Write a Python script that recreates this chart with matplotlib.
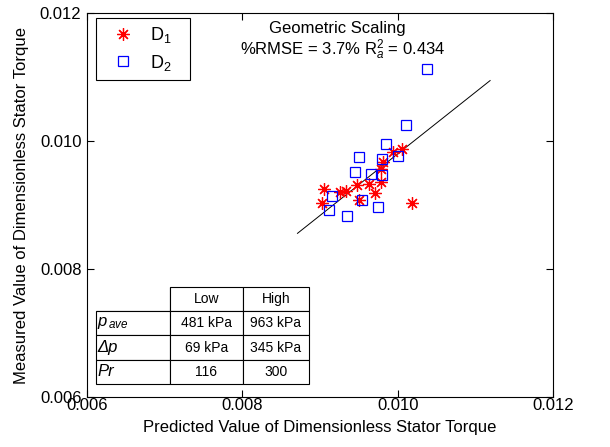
import matplotlib
matplotlib.use('Agg')
import matplotlib.pyplot as plt

plt.rcParams['font.family'] = ['Liberation Sans', 'DejaVu Sans']
plt.rcParams['mathtext.fontset'] = 'custom'
plt.rcParams['mathtext.rm'] = 'Liberation Sans'
plt.rcParams['mathtext.it'] = 'Liberation Sans:italic'

# D1 points (predicted, measured)
d1_pred = [0.01006, 0.00994, 0.00981, 0.00978, 0.00979, 0.00905, 0.00926,
           0.00933, 0.00948, 0.00963, 0.00971, 0.00950, 0.00902, 0.01018]
d1_meas = [0.00988, 0.00983, 0.00967, 0.00957, 0.00937, 0.00926, 0.00921,
           0.00922, 0.00931, 0.00933, 0.00919, 0.00908, 0.00904, 0.00904]

# D2 points
d2_pred = [0.01038, 0.01011, 0.00985, 0.00950, 0.00980, 0.01000, 0.00945,
           0.00966, 0.00980, 0.00915, 0.00954, 0.00975, 0.00911, 0.00935]
d2_meas = [0.01113, 0.01026, 0.00996, 0.00975, 0.00972, 0.00977, 0.00952,
           0.00949, 0.00947, 0.00915, 0.00908, 0.00897, 0.00892, 0.00883]

# fit line end points
fit_x = [0.00871, 0.01119]
fit_y = [0.00856, 0.01095]

ticks = [0.006, 0.008, 0.010, 0.012]

col_labels = ['', 'Low', 'High']
row_labels = [r'$p_{\,ave}$', 'Δp', 'Pr']
low_vals = ['481 kPa', '69 kPa', '116']
high_vals = ['963 kPa', '345 kPa', '300']

fig = plt.figure(figsize=(6.1, 4.47), dpi=100)
ax = fig.add_axes([0.1426, 0.1119, 0.764, 0.858])

ax.plot(fit_x, fit_y, color='black', lw=0.7)
ax.plot(d1_pred, d1_meas, ls='none', marker=(8, 2, 0), ms=9, mew=0.9,
        color='red', label='D$_1$')
ax.plot(d2_pred, d2_meas, ls='none', marker='s', ms=7.2, mew=0.9,
        mfc='none', mec='blue', label='D$_2$')

ax.set_xlim(0.006, 0.012)
ax.set_ylim(0.006, 0.012)
ax.set_xticks(ticks)
ax.set_yticks(ticks)
ax.set_xticklabels(['%.3f' % t for t in ticks])
ax.set_yticklabels(['%.3f' % t for t in ticks])
ax.tick_params(direction='in', length=5, width=0.8, top=True, right=True,
               labelsize=12, colors='black')
ax.tick_params(axis='x', pad=1)
ax.tick_params(axis='y', pad=4)
for s in ax.spines.values():
    s.set_linewidth(0.8)

ax.set_xlabel('Predicted Value of Dimensionless Stator Torque', fontsize=12,
              labelpad=5)
ax.set_ylabel('Measured Value of Dimensionless Stator Torque', fontsize=12,
              labelpad=8)

ax.text(0.537, 0.962, 'Geometric Scaling', transform=ax.transAxes,
        ha='center', va='center', fontsize=12)
ax.text(0.548, 0.905, r'%RMSE = 3.7% R$_a^2$ = 0.434', transform=ax.transAxes,
        ha='center', va='center', fontsize=12)

leg = ax.legend(loc='upper left', bbox_to_anchor=(0.019, 0.988),
                borderaxespad=0, fancybox=False, edgecolor='black',
                framealpha=1, fontsize=13, borderpad=0.4, handlelength=2.2,
                handletextpad=0.4, labelspacing=0.4)
leg.get_frame().set_linewidth(0.8)
# a bit more room on the right, like the reference box
leg._legend_box.sep = 0
for t in leg.get_texts():
    t.set_text(t.get_text() + '   ')

cell_text = [[r, lo, hi] for r, lo, hi in zip(row_labels, low_vals, high_vals)]
tab = ax.table(cellText=cell_text, colLabels=col_labels,
               colWidths=[0.159, 0.157, 0.142], cellLoc='center',
               bbox=[0.0193, 0.034, 0.457, 0.253])
tab.auto_set_font_size(False)
tab.set_fontsize(10)
for (r, c), cell in tab.get_celld().items():
    cell.set_linewidth(0.8)
    if r == 0 and c == 0:
        cell.visible_edges = 'BR'
    if r > 0 and c == 0:
        cell.get_text().set_fontstyle('italic')
        cell.get_text().set_fontsize(12)
        cell.get_text().set_ha('left')
        cell._loc = 'left'
        cell.PAD = 0.02

fig.savefig('out.png', dpi=100)
